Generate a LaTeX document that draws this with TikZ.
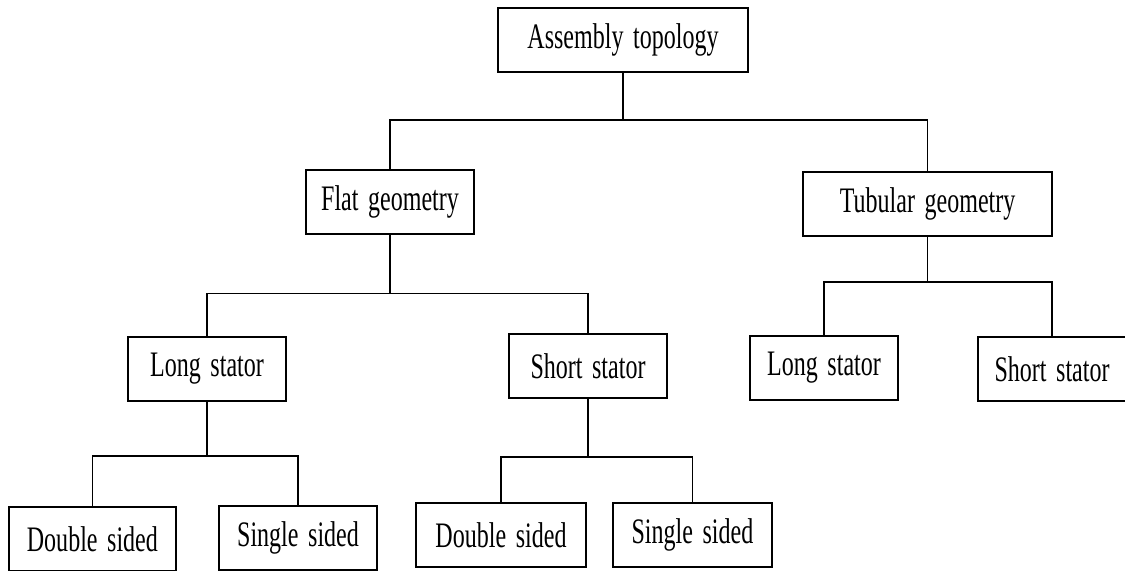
\documentclass[tikz,border=0pt]{standalone}
\usepackage{fontspec}
\setmainfont{Liberation Serif}[FakeStretch=0.67,WordSpace=1.6]
\usepackage{tikz}
\usetikzlibrary{positioning}

\begin{document}
\begin{tikzpicture}[
    block/.style={rectangle, draw=black, line width=1.3pt, fill=white, minimum height=1.6cm, inner sep=0pt, font=\fontsize{25.5}{30}\selectfont},
    link/.style={line width=1.2pt, black}
]
    \useasboundingbox (0,0) rectangle (28.125,-14.25);

    % Level 0 - root
    \node[block, minimum width=6.25cm] (topo) at (15.575,-1.0) {Assembly topology};

    % Level 1 - geometry
    \node[block, minimum width=4.2cm] (flat) at (9.75,-5.06) {Flat geometry};
    \node[block, minimum width=6.22cm] (tub) at (23.19,-5.1) {Tubular geometry};

    % Level 2 - stator
    \node[block, minimum width=3.95cm] (flatlong) at (5.175,-9.225) {Long stator};
    \node[block, minimum width=3.95cm] (flatshort) at (14.7,-9.16) {Short stator};
    \node[block, minimum width=3.7cm] (tublong) at (20.6,-9.2) {Long stator};
    \node[block, minimum width=3.7cm] (tubshort) at (26.3,-9.225) {Short stator};

    % Level 3 - sides
    \node[block, minimum width=4.175cm] (longdouble) at (2.31,-13.475) {Double sided};
    \node[block, minimum width=3.95cm] (longsingle) at (7.45,-13.44) {Single sided};
    \node[block, minimum width=4.25cm] (shortdouble) at (12.525,-13.375) {Double sided};
    \node[block, minimum width=3.97cm] (shortsingle) at (17.31,-13.375) {Single sided};

    % Bus heights
    \coordinate (bus1) at (0,-3.0);
    \coordinate (bus2) at (0,-7.34);
    \coordinate (bus3) at (0,-7.05);
    \coordinate (bus4) at (0,-11.4);
    \coordinate (bus5) at (0,-11.42);

    % Connectors
    \draw[link] (topo.south) -- (topo.south |- bus1);
    \draw[link] (flat.north) |- (tub.north |- bus1) -- (tub.north);

    \draw[link] (flat.south) -- (flat.south |- bus2);
    \draw[link] (flatlong.north) |- (flatshort.north |- bus2) -- (flatshort.north);

    \draw[link] (tub.south) -- (tub.south |- bus3);
    \draw[link] (tublong.north) |- (tubshort.north |- bus3) -- (tubshort.north);

    \draw[link] (flatlong.south) -- (flatlong.south |- bus4);
    \draw[link] (longdouble.north) |- (longsingle.north |- bus4) -- (longsingle.north);

    \draw[link] (flatshort.south) -- (flatshort.south |- bus5);
    \draw[link] (shortdouble.north) |- (shortsingle.north |- bus5) -- (shortsingle.north);
\end{tikzpicture}
\end{document}
